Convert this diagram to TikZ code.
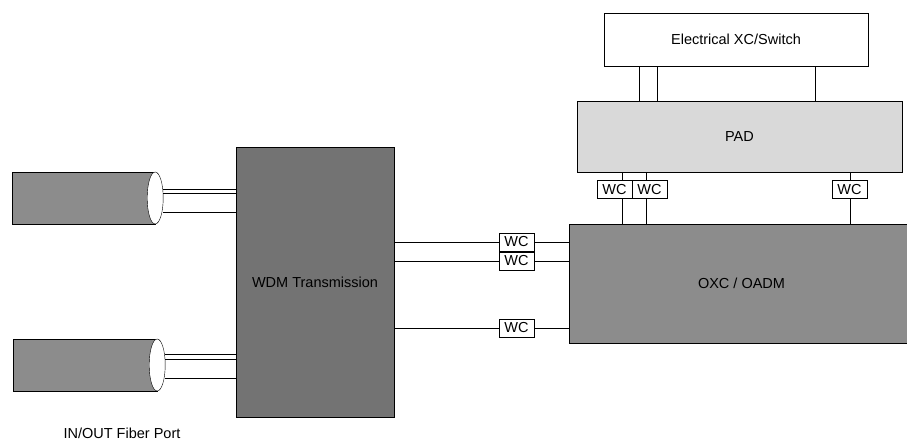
\documentclass[tikz,border=0pt]{standalone}
\usepackage{fontspec}
\setmainfont{Liberation Sans}
\usetikzlibrary{shapes.geometric}

\begin{document}
\begin{tikzpicture}[x=1pt, y=-1pt, font=\fontsize{14.5}{17}\selectfont]
    \tikzstyle{plainbox}=[draw, rectangle, inner sep=0]
    \tikzstyle{wcbox}=[draw, fill=white, rectangle, minimum width=35, minimum height=18, inner sep=0]
    \tikzstyle{fiberbody}=[draw, fill=gray!90, rectangle, minimum height=52, inner sep=0]
    \tikzstyle{fiberend}=[draw, fill=white, ellipse, minimum width=16, minimum height=52, inner sep=0]

    \useasboundingbox (0,0) rectangle (907,441);

    \node[plainbox, minimum width=264, minimum height=53] (elec) at (736,39.5) {Electrical XC/Switch};
    \node[plainbox, fill=gray!30, minimum width=325, minimum height=71] (pad) at (739.5,136.5) {PAD};
    \node[plainbox, fill=gray!90, minimum width=345, minimum height=119] (oxc) at (741.5,283.5) {OXC / OADM};
    \node[plainbox, fill=black!55, minimum width=158, minimum height=270] (wdm) at (315,282) {WDM Transmission};

    \node[fiberbody, minimum width=143] (fibA) at (83.5,198) {};
    \node[fiberend] (endA) at (fibA.east) {};
    \node[fiberbody, minimum width=144] (fibB) at (85,365) {};
    \node[fiberend] (endB) at (fibB.east) {};

    \node (port) at (122,433) {IN/OUT Fiber Port};

    \foreach \dy in {9,5,-14}
        \draw ([yshift=\dy]endA.east) coordinate (s) -- (s -| wdm.west);
    \foreach \dy in {11,6,-13}
        \draw ([yshift=\dy]endB.east) coordinate (s) -- (s -| wdm.west);

    \node[wcbox] (wcA) at (516.5,242) {WC};
    \node[wcbox] (wcB) at (516.5,261) {WC};
    \node[wcbox] (wcC) at (516.5,328) {WC};
    \foreach \n in {wcA,wcB,wcC} {
        \draw (\n.west -| wdm.east) -- (\n.west);
        \draw (\n.east) -- (\n.east -| oxc.west);
    }

    \node[wcbox] (wc1) at (614.5,189.5) {WC};
    \node[wcbox] (wc2) at (649.5,189.5) {WC};
    \node[wcbox] (wc3) at (849.5,189.5) {WC};
    \foreach \n/\dx in {wc1/7.5, wc2/-3.5, wc3/0.5} {
        \draw ([xshift=\dx]\n.north) coordinate (s) -- (s |- pad.south);
        \draw ([xshift=\dx]\n.south) coordinate (s) -- (s |- oxc.north);
    }

    \foreach \x in {639,657,815} {
        \coordinate (tap) at (\x,0);
        \draw (tap |- elec.south) -- (tap |- pad.north);
    }
\end{tikzpicture}
\end{document}
